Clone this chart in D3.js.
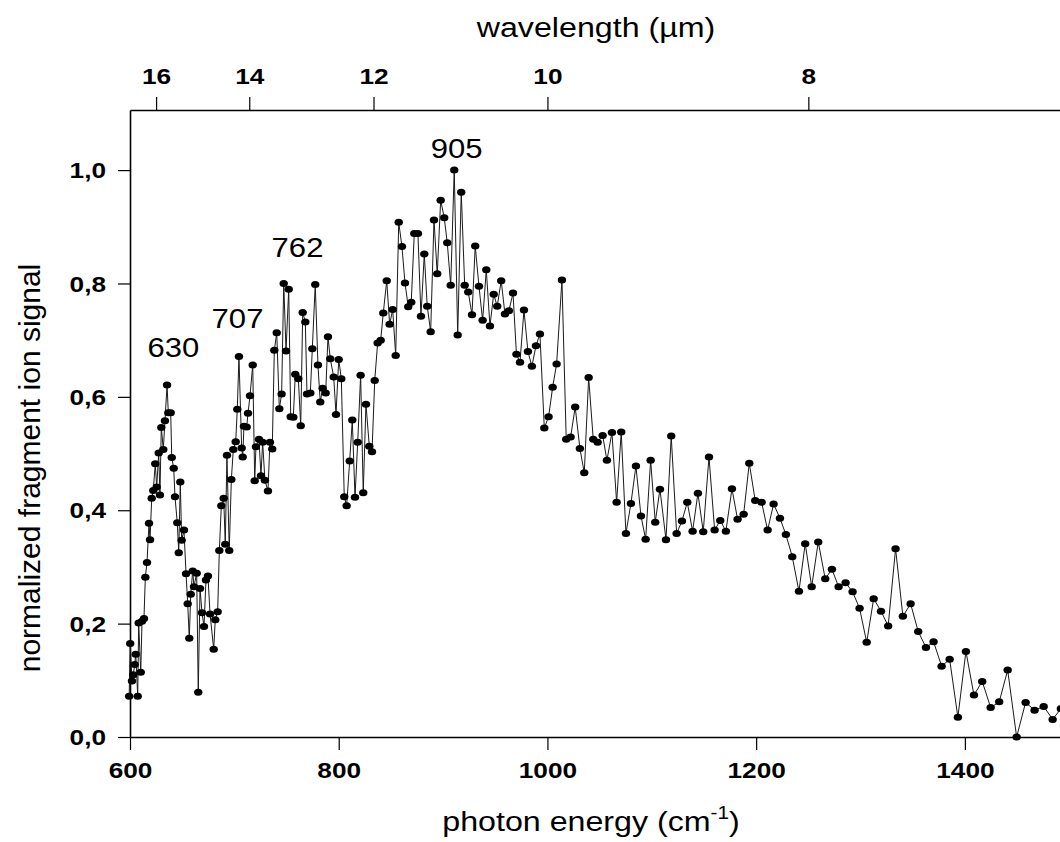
<!DOCTYPE html>
<html>
<head>
<meta charset="utf-8">
<title>fragment ion signal</title>
<style>
  body { margin: 0; background: #fff; }
  svg text { font-family: "Liberation Sans", Arial, sans-serif; fill: #000; }
  .tick text { font-weight: bold; font-size: 21.5px; }
  .domain { stroke: #000; stroke-width: 1.6px; }
  .tick line { stroke: #000; stroke-width: 1.2px; }
</style>
</head>
<body>
<div id="chart"></div>
<script src="https://cdn.jsdelivr.net/npm/d3@7"></script>
<script>
// photon energy (cm-1) and normalized signal
var energy = [
  599.2,600.2,601.9,603.2,604.5,605.5,607.4,608.3,610.3,611.5,
  613.4,614.7,616.3,618.2,619.2,620.8,622.3,624.2,625.6,627.5,
  628.7,630.0,631.9,633.5,635.5,636.7,639.0,640.0,641.9,643.1,
  645.3,646.7,648.2,649.5,651.7,653.7,655.3,656.8,658.2,660.1,
  661.3,663.9,665.4,667.1,669.0,670.9,672.8,674.7,676.7,680.2,
  681.7,684.0,685.6,687.5,689.8,691.3,692.9,695.1,697.1,699.0,
  701.3,702.8,704.4,707.0,708.0,709.2,711.8,713.1,715.0,717.6,
  719.5,720.7,723.6,725.5,727.1,729.3,732.2,734.1,736.3,738.3,
  740.6,743.1,745.3,747.3,749.5,752.1,754.0,756.5,758.4,761.3,
  763.6,765.5,768.0,769.6,772.8,774.7,777.5,780.1,782.3,784.6,
  787.5,789.7,791.9,795.2,797.4,800.0,802.5,805.3,807.6,810.5,
  813.0,815.6,818.2,821.0,823.5,826.1,829.3,831.9,834.5,
  837.3,840.2,842.7,846.0,848.8,851.7,854.6,857.5,860.6,863.5,
  866.6,869.5,872.4,875.9,878.8,882.0,884.8,888.1,891.3,894.4,
  897.7,901.1,904.0,907.3,910.7,914.0,917.4,920.7,924.1,927.7,
  930.8,934.4,937.9,941.4,944.9,948.5,951.9,955.7,959.3,963.1,
  967.0,970.3,973.7,977.5,981.3,985.1,989.0,992.8,997.0,1001.1,
  1005.0,1008.8,1013.9,1018.0,1022.2,1026.6,1031.1,1035.3,1039.5,1043.9,
  1048.1,1052.9,1057.0,1061.8,1066.3,1070.7,1075.2,1080.0,1084.8,1089.6,
  1094.1,1098.9,1103.3,1107.8,1113.6,1118.6,1123.8,1128.9,1134.0,1139.1,
  1144.2,1149.3,1154.8,1160.2,1165.6,1171.0,1176.8,1182.2,1188.0,1193.4,
  1199.1,1205.2,1211.0,1216.7,1222.8,1228.5,1234.6,1241.0,1247.0,1253.2,
  1259.5,1266.2,1272.6,1279.0,1285.7,1292.4,1299.1,1305.9,1312.6,1319.6,
  1326.5,1333.6,1340.6,1348.0,1355.3,1362.7,1370.0,1377.7,1385.4,1393.3,
  1401.0,1408.7,1416.6,1424.7,1432.9,1441.0,1449.6,1458.2,1466.8,1475.5,
  1484.1,1492.0
]
var signal = [
  0.072,0.165,0.099,0.110,0.128,0.146,0.072,0.201,0.114,0.204,
  0.209,0.282,0.308,0.377,0.348,0.421,0.435,0.482,0.441,0.501,
  0.427,0.546,0.507,0.558,0.621,0.572,0.572,0.493,0.474,0.424,
  0.378,0.325,0.450,0.347,0.365,0.288,0.235,0.174,0.252,0.293,
  0.265,0.289,0.079,0.262,0.219,0.195,0.277,0.284,0.217,0.155,
  0.207,0.221,0.329,0.408,0.421,0.340,0.497,0.329,0.454,0.507,
  0.521,0.578,0.671,0.510,0.494,0.548,0.547,0.571,0.602,0.656,
  0.452,0.512,0.525,0.461,0.520,0.453,0.434,0.520,0.508,0.682,
  0.713,0.579,0.605,0.800,0.681,0.790,0.565,0.564,0.640,0.632,
  0.549,0.749,0.732,0.605,0.607,0.685,0.798,0.656,0.591,0.615,
  0.607,0.706,0.667,0.635,0.569,0.666,0.632,0.424,0.408,0.487,
  0.559,0.423,0.520,0.638,0.431,0.587,0.513,0.503,0.629,
  0.695,0.700,0.748,0.805,0.728,0.754,0.673,0.908,0.865,0.801,
  0.759,0.767,0.888,0.888,0.742,0.852,0.760,0.715,0.912,0.817,
  0.947,0.916,0.872,0.797,1.000,0.709,0.961,0.797,0.785,0.745,
  0.866,0.795,0.735,0.824,0.725,0.781,0.760,0.805,0.746,0.752,
  0.783,0.675,0.661,0.753,0.680,0.654,0.690,0.711,0.545,0.565,
  0.617,0.658,0.806,0.525,0.529,0.582,0.509,0.466,0.634,0.525,
  0.520,0.532,0.488,0.537,0.414,0.538,0.359,0.412,0.478,0.390,
  0.349,0.488,0.379,0.437,0.348,0.531,0.359,0.381,0.414,0.363,
  0.430,0.362,0.494,0.365,0.382,0.363,0.438,0.384,0.393,0.483,
  0.417,0.414,0.365,0.411,0.386,0.357,0.318,0.257,0.341,0.265,
  0.344,0.279,0.296,0.265,0.272,0.256,0.227,0.167,0.244,0.222,
  0.196,0.332,0.213,0.235,0.186,0.158,0.168,0.125,0.137,0.035,
  0.151,0.074,0.098,0.052,0.062,0.118,0.000,0.061,0.047,0.054,
  0.031,0.050
]

var energyTicks = [600, 800, 1000, 1200, 1400]
var energyMinor = [700, 900, 1100, 1300, 1500]
var signalTicks = [0, 0.2, 0.4, 0.6, 0.8, 1.0]
var signalMinor = [0.1, 0.3, 0.5, 0.7, 0.9]
var waveTicks = [16, 14, 12, 10, 8]
var waveMinor = [15, 13, 11, 9, 7]

// peak annotations: label, centre (cm-1), height (signal units)
var peakText = ["630", "707", "762", "905"]
var peakAt = [641.5, 703, 760.5, 913]
var peakLevel = [0.671, 0.721, 0.846, 1.022]

var width = 1060, height = 842
var svg = d3.select("#chart").append("svg")
  .attr("width", width).attr("height", height)

var x = d3.scaleLinear().domain([600, 1500]).range([130, 130 + 900 * 1.0436])
var y = d3.scaleLinear().domain([0, 1.106]).range([737, 110])

var comma = function(d) { return d3.format(".1f")(d).replace(".", ",") }

// bottom axis
var gx = svg.append("g").attr("transform", "translate(0," + y(0) + ")")
gx.call(d3.axisBottom(x).tickValues(energyMinor).tickSize(6).tickSizeOuter(0).tickFormat(""))
gx.call(d3.axisBottom(x).tickValues(energyTicks).tickSize(13).tickSizeOuter(0).tickFormat(d3.format("d")))
gx.selectAll(".tick text").attr("y", 41).attr("dy", null).attr("transform", "scale(1.22,1)")

// top axis in wavelength
var gt = svg.append("g").attr("transform", "translate(0," + y.range()[1] + ")")
gt.call(d3.axisTop(x).tickValues(waveMinor.map(function(l) { return 1e4 / l })).tickSize(6).tickSizeOuter(0).tickFormat(""))
gt.call(d3.axisTop(x).tickValues(waveTicks.map(function(l) { return 1e4 / l })).tickSize(13).tickSizeOuter(0)
  .tickFormat(function(d) { return Math.round(1e4 / d) }))
gt.selectAll(".tick text").attr("y", -26).attr("dy", null).attr("transform", "scale(1.22,1)")

// left axis
var gy = svg.append("g").attr("transform", "translate(" + x(600) + ",0)")
gy.call(d3.axisLeft(y).tickValues(signalMinor).tickSize(6).tickSizeOuter(0).tickFormat(""))
gy.call(d3.axisLeft(y).tickValues(signalTicks).tickSize(12).tickSizeOuter(0).tickFormat(comma))
gy.selectAll(".tick text").attr("x", -24 / 1.22).attr("dy", "0.36em").attr("transform", "scale(1.22,1)")

var pts = d3.zip(energy, signal)

svg.append("path")
  .datum(pts)
  .attr("fill", "none")
  .attr("stroke", "#1a1a1a")
  .attr("stroke-width", 1)
  .attr("d", d3.line().x(function(d) { return x(d[0]) }).y(function(d) { return y(d[1]) }))

svg.append("g").selectAll("ellipse")
  .data(pts)
  .enter().append("ellipse")
  .attr("cx", function(d) { return x(d[0]) })
  .attr("cy", function(d) { return y(d[1]) })
  .attr("rx", 4.2)
  .attr("ry", 3.5)
  .attr("fill", "#000")

svg.append("g").selectAll("text")
  .data(peakText)
  .enter().append("text")
  .attr("text-anchor", "middle")
  .attr("font-size", 27.5)
  .attr("transform", function(d, i) { return "translate(" + x(peakAt[i]) + "," + y(peakLevel[i]) + ") scale(1.13,1)" })
  .text(function(d) { return d })

// titles
svg.append("text")
  .attr("text-anchor", "middle")
  .attr("font-size", 28)
  .attr("transform", "translate(596,37) scale(1.15,1)")
  .text("wavelength (\u00b5m)")

var xt = svg.append("text")
  .attr("text-anchor", "middle")
  .attr("font-size", 28)
  .attr("transform", "translate(591,831) scale(1.15,1)")
xt.append("tspan").text("photon energy (cm")
xt.append("tspan").attr("font-size", 18).attr("dy", -12).text("-1")
xt.append("tspan").attr("dy", 12).text(")")

svg.append("text")
  .attr("text-anchor", "middle")
  .attr("font-size", 30)
  .attr("transform", "translate(40,468) rotate(-90)")
  .text("normalized fragment ion signal")
</script>
</body>
</html>
